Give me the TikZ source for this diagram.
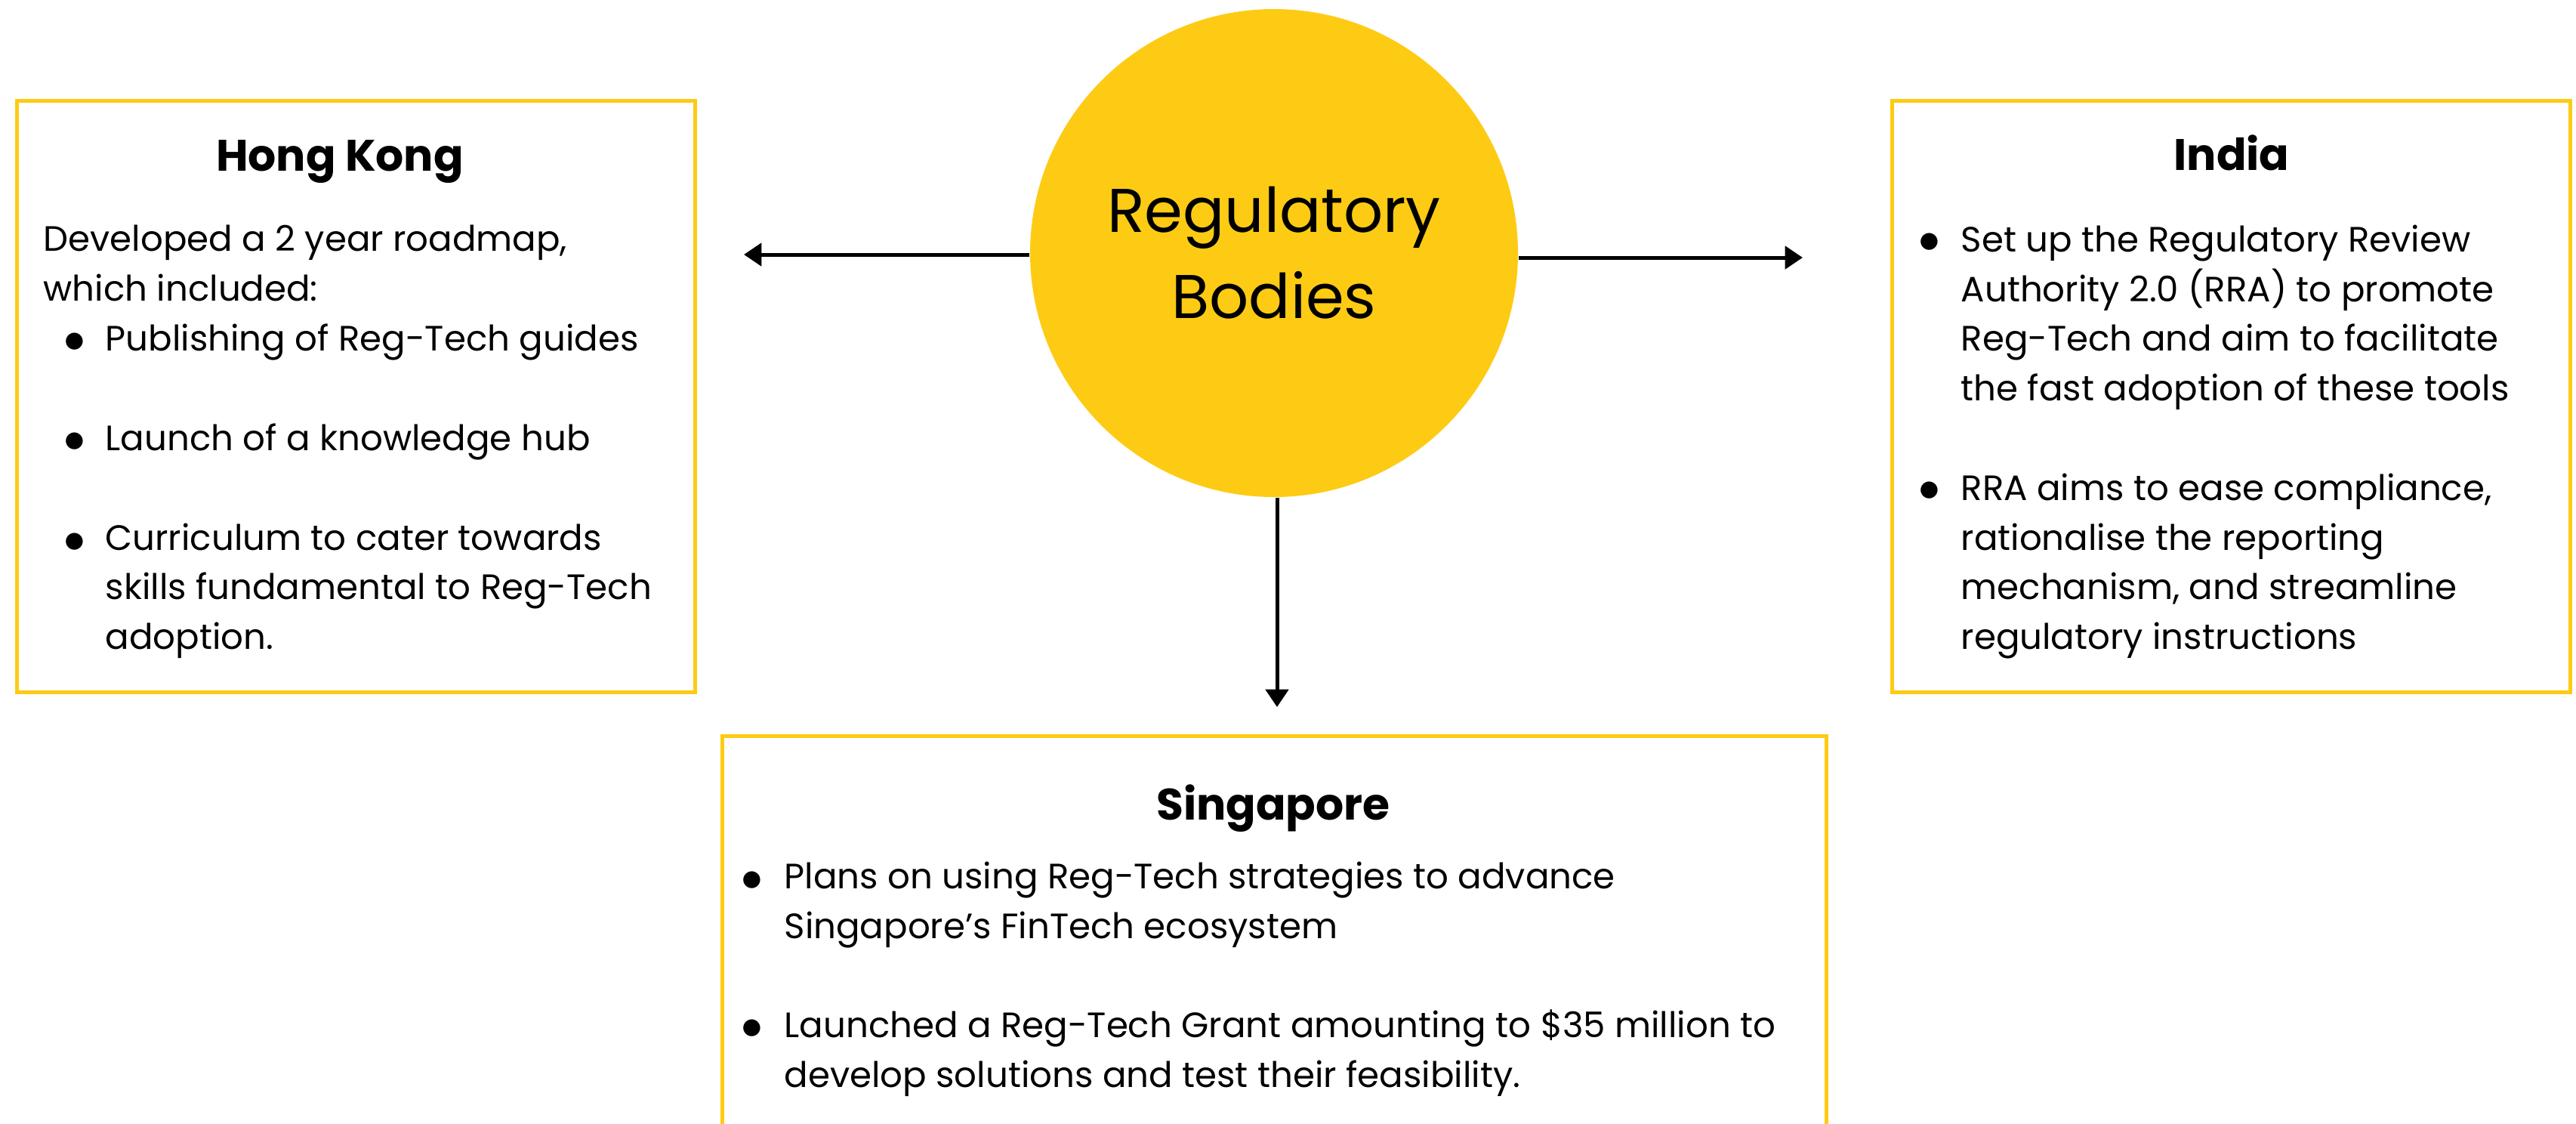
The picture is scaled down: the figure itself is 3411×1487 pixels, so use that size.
\documentclass[tikz,border=0pt]{standalone}
\usepackage{fontspec}
\setmainfont{Poppins}
\usepackage{tikz}
\usetikzlibrary{arrows.meta}
\definecolor{regyellow}{RGB}{254,203,20}

\begin{document}
\begin{tikzpicture}[x=0.3pt,y=-0.3pt,
  regbox/.style={draw=regyellow,line width=1.5pt,inner sep=0pt},
  regtitle/.style={anchor=base,inner sep=0pt,font=\fontsize{17.5pt}{21pt}\selectfont\bfseries},
  regtext/.style={anchor=base west,inner sep=0pt,align=left,font=\fontsize{14pt}{19.65pt}\selectfont},
  regdot/.style={anchor=base,inner sep=0pt,font=\fontsize{17pt}{19.65pt}\selectfont},
  regarrow/.style={line width=1.5pt,-{Triangle[length=7pt,width=9pt]}}]
  \clip (0,0) rectangle (3411,1487);
  \fill[white] (0,0) rectangle (3411,1487);
  % centre
  \node[circle,fill=regyellow,minimum size=193.8pt,align=center,
    font=\fontsize{24.5pt}{34.2pt}\selectfont] (reg) at (1687,335) {Regulatory\\Bodies};
  % boxes
  \node[regbox,minimum width=269.4pt,minimum height=234.9pt] (hk) at (471,525) {};
  \node[regbox,minimum width=269.4pt,minimum height=234.9pt] (in) at (2954,525) {};
  \node[regbox,minimum width=438.6pt,minimum height=180pt] (sg) at (1687,1274) {};
  % Hong Kong (text nodes sit on their last baseline)
  \node[regtitle] (hktitle) at (450,226) {Hong Kong};
  \node[regtext] (hkintro) at (57,398) {Developed a 2 year roadmap,\\which included:};
  \node[regdot] (hkdota) at (99,466) {$\bullet$};
  \node[regtext] (hkitema) at (139,464) {Publishing of Reg-Tech guides};
  \node[regdot] (hkdotb) at (99,598) {$\bullet$};
  \node[regtext] (hkitemb) at (139,596) {Launch of a knowledge hub};
  \node[regdot] (hkdotc) at (99,731) {$\bullet$};
  \node[regtext] (hkitemc) at (139,859) {Curriculum to cater towards\\skills fundamental to Reg-Tech\\adoption.};
  % India
  \node[regtitle] (intitle) at (2955,225) {India};
  \node[regdot] (indota) at (2555,334) {$\bullet$};
  \node[regtext] (initema) at (2596,530) {Set up the Regulatory Review\\Authority 2.0 (RRA) to promote\\Reg-Tech and aim to facilitate\\the fast adoption of these tools};
  \node[regdot] (indotb) at (2555,663) {$\bullet$};
  \node[regtext] (initemb) at (2596,859) {RRA aims to ease compliance,\\rationalise the reporting\\mechanism, and streamline\\regulatory instructions};
  % Singapore
  \node[regtitle] (sgtitle) at (1686,1085) {Singapore};
  \node[regdot] (sgdota) at (996,1179) {$\bullet$};
  \node[regtext] (sgitema) at (1038,1242) {Plans on using Reg-Tech strategies to advance\\Singapore’s FinTech ecosystem};
  \node[regdot] (sgdotb) at (996,1375) {$\bullet$};
  \node[regtext] (sgitemb) at (1038,1439) {Launched a Reg-Tech Grant amounting to \$35 million to\\develop solutions and test their feasibility.};
  % arrows
  \coordinate (hkend) at (985,337);
  \coordinate (inend) at (2387,341);
  \coordinate (sgend) at (1691,936);
  \draw[regarrow] (reg.west |- hkend) -- (hkend);
  \draw[regarrow] (reg.east |- inend) -- (inend);
  \draw[regarrow] (reg.south -| sgend) -- (sgend);
\end{tikzpicture}
\end{document}
